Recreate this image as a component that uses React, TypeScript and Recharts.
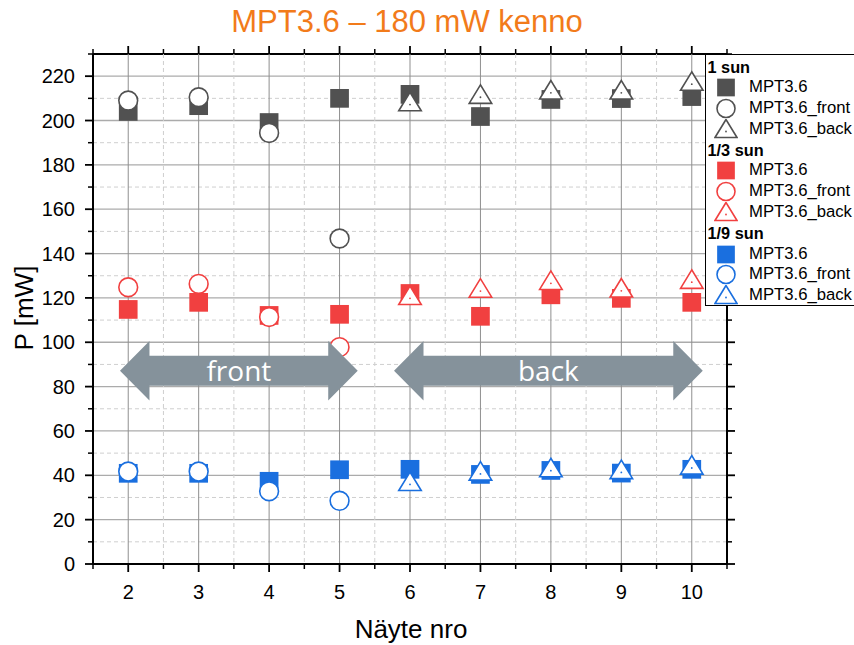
import React from 'react';
import {
  ScatterChart,
  Scatter,
  XAxis,
  YAxis,
  CartesianGrid,
  ReferenceArea,
  Legend,
} from 'recharts';

// ---------- data ----------
const samples = [2, 3, 4, 5, 6, 7, 8, 9, 10];
const frontSamples = [2, 3, 4, 5];
const backSamples = [6, 7, 8, 9, 10];

const sun1Mpt = [204.1, 206.7, 199.1, 210.0, 211.8, 201.8, 209.5, 209.9, 210.8];
const sun1Front = [209.0, 210.5, 194.4, 146.8];
const sun1Back = [207.2, 210.5, 212.5, 212.5, 216.4];

const sun3Mpt = [114.8, 118.0, 112.1, 112.6, 122.0, 111.7, 121.4, 119.8, 118.0];
const sun3Front = [124.8, 126.3, 111.4, 97.8];
const sun3Back = [119.8, 123.1, 126.6, 123.2, 127.1];

const sun9Mpt = [40.9, 40.9, 37.3, 42.5, 42.7, 40.4, 42.2, 41.0, 42.7];
const sun9Front = [41.7, 41.7, 32.8, 28.5];
const sun9Back = [35.9, 40.6, 42.1, 41.3, 43.3];

// all tick positions (major + minor); majors get a label
const xTicks = [1.5, 2, 2.5, 3, 3.5, 4, 4.5, 5, 5.5, 6, 6.5, 7, 7.5, 8, 8.5, 9, 9.5, 10, 10.5];
const xLabelled = [2, 3, 4, 5, 6, 7, 8, 9, 10];
const yTicks = [0, 10, 20, 30, 40, 50, 60, 70, 80, 90, 100, 110, 120, 130, 140, 150, 160, 170, 180, 190, 200, 210, 220, 230];
const yLabelled = [0, 20, 40, 60, 80, 100, 120, 140, 160, 180, 200, 220];

const groupTitles = ['1 sun', '1/3 sun', '1/9 sun'];
const seriesNames = ['MPT3.6', 'MPT3.6_front', 'MPT3.6_back'];

const arrowLabels = ['front', 'back'];
const arrowX1 = [1.883, 5.773];
const arrowX2 = [5.258, 10.156];
const arrowY1 = [73.7, 73.7];
const arrowY2 = [100.6, 100.6];

// ---------- styling ----------
const COLORS = ['#515151', '#F14040', '#1A6FDF'];
const FONT = 'Arial, "Liberation Sans", sans-serif';

const toPoints = (xs: number[], ys: number[]) => xs.map((x, i) => ({ x, y: ys[i] }));

const groups = [
  [toPoints(samples, sun1Mpt), toPoints(frontSamples, sun1Front), toPoints(backSamples, sun1Back)],
  [toPoints(samples, sun3Mpt), toPoints(frontSamples, sun3Front), toPoints(backSamples, sun3Back)],
  [toPoints(samples, sun9Mpt), toPoints(frontSamples, sun9Front), toPoints(backSamples, sun9Back)],
];

function SquareMark({ cx, cy, color, size = 18.7 }: any) {
  if (cx == null || cy == null) return null;
  return <rect x={cx - size / 2} y={cy - size / 2} width={size} height={size} fill={color} />;
}
function CircleMark({ cx, cy, color, r = 9.4 }: any) {
  if (cx == null || cy == null) return null;
  return <circle cx={cx} cy={cy} r={r} fill="#fff" stroke={color} strokeWidth={1.6} />;
}
function TriangleMark({ cx, cy, color, w = 22.5, h = 18.5 }: any) {
  if (cx == null || cy == null) return null;
  const top = cy - (2 * h) / 3;
  const bot = cy + h / 3;
  const pts = `${cx},${top} ${cx - w / 2},${bot} ${cx + w / 2},${bot}`;
  return (
    <g>
      <polygon points={pts} fill="#fff" stroke={color} strokeWidth={1.6} strokeLinejoin="miter" />
      <circle cx={cx} cy={cy} r={0.9} fill={color} />
    </g>
  );
}

const markFor = (kind: number, color: string) => (props: any) => {
  if (kind === 0) return <SquareMark cx={props.cx} cy={props.cy} color={color} />;
  if (kind === 1) return <CircleMark cx={props.cx} cy={props.cy} color={color} />;
  return <TriangleMark cx={props.cx} cy={props.cy} color={color} />;
};

const arrowShape = (label: string) => (props: any) => {
  const { x, y, width, height } = props;
  if (x == null || y == null) return null;
  const hl = 29.5;
  const cy = y + height / 2;
  const sh = height / 2;
  const pts = [
    [x, cy],
    [x + hl, y],
    [x + hl, cy - sh / 2],
    [x + width - hl, cy - sh / 2],
    [x + width - hl, y],
    [x + width, cy],
    [x + width - hl, y + height],
    [x + width - hl, cy + sh / 2],
    [x + hl, cy + sh / 2],
    [x + hl, y + height],
  ]
    .map((p) => p.join(','))
    .join(' ');
  return (
    <g>
      <polygon points={pts} fill="#85929B" />
      <text
        x={x + width / 2}
        y={cy + 10}
        textAnchor="middle"
        fill="#fff"
        fontSize={28}
        fontFamily='"Open Sans", "Noto Sans", sans-serif'
      >
        {label}
      </text>
    </g>
  );
};

const XTick = (props: any) => {
  const { x, y, payload } = props;
  if (!payload || !xLabelled.includes(payload.value)) return <g />;
  return (
    <text x={x} y={y} dy="0.71em" textAnchor="middle" fill="#000" fontSize={20} fontFamily={FONT}>
      {payload.value}
    </text>
  );
};
const YTick = (props: any) => {
  const { x, y, payload } = props;
  if (!payload || !yLabelled.includes(payload.value)) return <g />;
  return (
    <text x={x} y={y} dy="0.355em" textAnchor="end" fill="#000" fontSize={20} fontFamily={FONT}>
      {payload.value}
    </text>
  );
};

const MAJOR_LEN = 8;
const MINOR_LEN = 5;
const TICK_STROKE = '#000';

// vertical grid lines + top/bottom tick marks (index odd = integer = major)
const verticalLine = (p: any) => {
  const { x1, y1, y2, index } = p;
  if (x1 == null) return <g key={p.key} />;
  const edge = index === 0 || index === xTicks.length - 1 || index >= xTicks.length;
  const major = index % 2 === 1;
  const len = major ? MAJOR_LEN : MINOR_LEN;
  return (
    <g key={p.key}>
      {edge ? (
        <line x1={x1} x2={x1} y1={y1} y2={y2} stroke="#000" strokeWidth={2} />
      ) : major ? (
        <line x1={x1} x2={x1} y1={y1} y2={y2} stroke="#8f8f8f" strokeWidth={1} />
      ) : (
        <line x1={x1} x2={x1} y1={y1} y2={y2} stroke="#cfcfcf" strokeWidth={1} strokeDasharray="4 3" />
      )}
      <line x1={x1} x2={x1} y1={y1 - len} y2={y1} stroke={TICK_STROKE} strokeWidth={major ? 1.8 : 1.5} />
      <line x1={x1} x2={x1} y1={y2} y2={y2 + len} stroke={TICK_STROKE} strokeWidth={major ? 1.8 : 1.5} />
    </g>
  );
};

// horizontal grid lines + left/right tick marks (index even = major)
const horizontalLine = (p: any) => {
  const { x1, x2, y1, index } = p;
  if (y1 == null) return <g key={p.key} />;
  const edge = index === 0 || index === yTicks.length - 1 || index >= yTicks.length;
  const major = index % 2 === 0;
  const len = major ? MAJOR_LEN : MINOR_LEN;
  return (
    <g key={p.key}>
      {edge ? (
        <line x1={x1} x2={x2} y1={y1} y2={y1} stroke="#000" strokeWidth={2} />
      ) : major ? (
        <line x1={x1} x2={x2} y1={y1} y2={y1} stroke="#ababab" strokeWidth={1.3} />
      ) : (
        <line x1={x1} x2={x2} y1={y1} y2={y1} stroke="#cfcfcf" strokeWidth={1} strokeDasharray="4 3" />
      )}
      <line x1={x1 - len} x2={x1} y1={y1} y2={y1} stroke={TICK_STROKE} strokeWidth={major ? 1.8 : 1.5} />
      <line x1={x2} x2={x2 + len} y1={y1} y2={y1} stroke={TICK_STROKE} strokeWidth={major ? 1.8 : 1.5} />
    </g>
  );
};

function LegendIcon({ kind, color }: { kind: number; color: string }) {
  return (
    <svg width={24} height={21} style={{ display: 'block' }}>
      {kind === 0 && <SquareMark cx={12} cy={10.5} color={color} size={17.7} />}
      {kind === 1 && <CircleMark cx={12} cy={10.5} color={color} r={9} />}
      {kind === 2 && <TriangleMark cx={12} cy={12.5} color={color} w={22} h={18} />}
    </svg>
  );
}

function LegendBox() {
  const rowH = 20.8;
  return (
    <div
      style={{
        border: '1px solid #000',
        background: '#fff',
        boxSizing: 'border-box',
        width: 160,
        height: 252,
        paddingTop: 1.5,
        fontFamily: FONT,
        color: '#000',
      }}
    >
      {groupTitles.map((title, gi) => (
        <div key={title}>
          <div
            style={{
              height: rowH,
              lineHeight: `${rowH}px`,
              fontWeight: 'bold',
              fontSize: 16.3,
              paddingLeft: 1.5,
              whiteSpace: 'nowrap',
            }}
          >
            {title}
          </div>
          {seriesNames.map((name, si) => (
            <div
              key={name}
              style={{ height: rowH, display: 'flex', alignItems: 'center', whiteSpace: 'nowrap' }}
            >
              <div style={{ marginLeft: 8, width: 24 }}>
                <LegendIcon kind={si} color={COLORS[gi]} />
              </div>
              <span style={{ marginLeft: 11, fontSize: 16.7, lineHeight: `${rowH}px` }}>{name}</span>
            </div>
          ))}
        </div>
      ))}
    </div>
  );
}

export default function App() {
  const W = 854;
  const H = 645;
  const margin = { top: 54, right: 127, bottom: 80, left: 92 };
  const axisLine = { stroke: '#000', strokeWidth: 2 };

  return (
    <div
      style={{
        position: 'absolute',
        left: 0,
        top: 0,
        width: W,
        height: H,
        overflow: 'hidden',
        background: '#fff',
      }}
    >
      <ScatterChart width={W} height={H} margin={margin}>
        <CartesianGrid
          xAxisId="x"
          yAxisId="y"
          horizontal={horizontalLine}
          vertical={verticalLine}
        />

        <XAxis
          xAxisId="x"
          dataKey="x"
          type="number"
          orientation="bottom"
          domain={[1.5, 10.5]}
          allowDataOverflow
          ticks={xTicks}
          interval={0}
          height={1}
          axisLine={axisLine}
          tickLine={false}
          tickSize={8}
          tickMargin={13}
          tick={XTick}
        />
        <YAxis
          yAxisId="y"
          dataKey="y"
          type="number"
          orientation="left"
          domain={[0, 230]}
          allowDataOverflow
          ticks={yTicks}
          interval={0}
          width={1}
          axisLine={axisLine}
          tickLine={false}
          tickSize={8}
          tickMargin={10}
          tick={YTick}
        />

        {groups.map((g, gi) =>
          g.map((pts, si) => (
            <Scatter
              key={`${gi}-${si}`}
              name={`${groupTitles[gi]} ${seriesNames[si]}`}
              data={pts}
              xAxisId="x"
              yAxisId="y"
              fill={COLORS[gi]}
              shape={markFor(si, COLORS[gi])}
              isAnimationActive={false}
            />
          ))
        )}

        {arrowLabels.map((label, i) => (
          <ReferenceArea
            key={label}
            xAxisId="x"
            yAxisId="y"
            x1={arrowX1[i]}
            x2={arrowX2[i]}
            y1={arrowY1[i]}
            y2={arrowY2[i]}
            zIndex={1000}
            shape={arrowShape(label)}
            ifOverflow="visible"
          />
        ))}

        <Legend
          layout="vertical"
          align="center"
          verticalAlign="middle"
          content={() => <LegendBox />}
          wrapperStyle={{ position: 'absolute', left: 705, top: 54, width: 160, height: 252 }}
        />
      </ScatterChart>

      <svg
        width={W}
        height={H}
        style={{ position: 'absolute', left: 0, top: 0, pointerEvents: 'none' }}
      >
        <text x={407} y={32} textAnchor="middle" fill="#F27B1A" fontSize={31} fontFamily={FONT}>
          MPT3.6 – 180 mW kenno
        </text>
        <text
          x={33}
          y={308}
          transform="rotate(-90 33 308)"
          textAnchor="middle"
          fill="#000"
          fontSize={26}
          fontFamily={FONT}
        >
          P [mW]
        </text>
        <text x={411} y={638} textAnchor="middle" fill="#000" fontSize={26} fontFamily={FONT}>
          Näyte nro
        </text>
      </svg>
    </div>
  );
}
